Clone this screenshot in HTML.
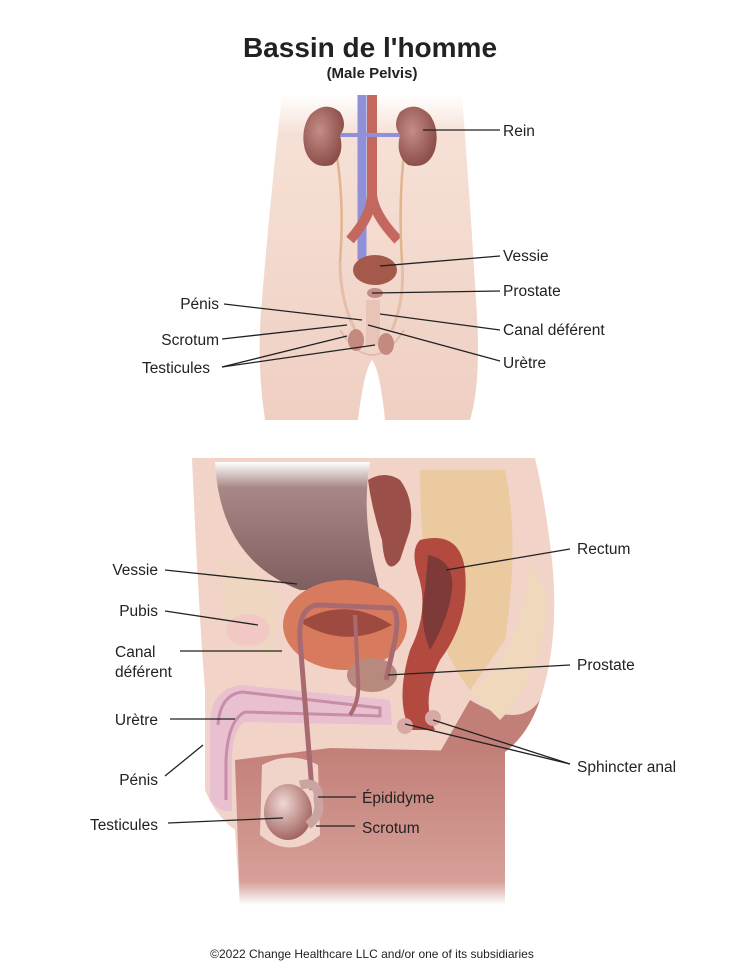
<!DOCTYPE html>
<html><head><meta charset="utf-8"><style>
html,body{margin:0;padding:0;background:#fff;}
svg{display:block;}
text{font-family:"Liberation Sans",sans-serif;fill:#222;}
</style></head><body>
<svg width="744" height="963" viewBox="0 0 744 963" xmlns="http://www.w3.org/2000/svg">
<defs>
<linearGradient id="skinTop" x1="0" y1="0" x2="0" y2="1">
<stop offset="0" stop-color="#fff"/><stop offset="0.12" stop-color="#f6e0d6"/><stop offset="1" stop-color="#efcfc2"/></linearGradient>
<linearGradient id="cav" x1="0" y1="0" x2="0" y2="1">
<stop offset="0" stop-color="#fff"/><stop offset="0.2" stop-color="#a88886"/><stop offset="1" stop-color="#7e5e5e"/></linearGradient>
<linearGradient id="low" x1="0" y1="0" x2="0" y2="1">
<stop offset="0" stop-color="#c27f78"/><stop offset="0.85" stop-color="#d6a098"/><stop offset="1" stop-color="#fff"/></linearGradient>
<radialGradient id="kid" cx="0.4" cy="0.4" r="0.6"><stop offset="0" stop-color="#c58d86"/><stop offset="1" stop-color="#8d4f4a"/></radialGradient>
<radialGradient id="test" cx="0.4" cy="0.35" r="0.7"><stop offset="0" stop-color="#f0d8d4"/><stop offset="1" stop-color="#9e5e5a"/></radialGradient>
</defs>

<text x="370" y="57" font-size="28" font-weight="bold" text-anchor="middle">Bassin de l'homme</text>
<text x="372" y="78" font-size="15" font-weight="bold" text-anchor="middle">(Male Pelvis)</text>

<!-- TOP FIGURE -->
<path d="M282,95 L462,95 Q470,200 476,300 Q482,380 470,420 L385,420 Q380,370 372,360 Q364,370 358,420 L265,420 Q256,360 262,300 Q270,200 282,95 Z" fill="url(#skinTop)"/>
<path d="M340,330 Q372,380 404,330" fill="none" stroke="#e0b4a6" stroke-width="1.5"/>
<path d="M362,95 L362,260" stroke="#8f90d8" stroke-width="9" fill="none"/>
<path d="M372,95 L372,195 Q372,215 350,240 M372,195 Q374,215 398,240" stroke="#c4675e" stroke-width="10" fill="none"/>
<path d="M330,135 L410,135" stroke="#8f90d8" stroke-width="4"/>
<path d="M335,145 Q345,200 340,262 M405,145 Q398,200 402,262" stroke="#e0b48e" stroke-width="2.5" fill="none"/>
<path d="M310,115 Q325,100 340,112 Q348,125 340,135 Q345,155 332,165 Q312,170 305,150 Q300,130 310,115 Z" fill="url(#kid)"/>
<path d="M430,115 Q415,100 400,112 Q392,125 400,135 Q395,155 408,165 Q428,170 435,150 Q440,130 430,115 Z" fill="url(#kid)"/>
<ellipse cx="375" cy="270" rx="22" ry="15" fill="#a4594b"/>
<ellipse cx="375" cy="293" rx="8" ry="5" fill="#c48c84"/>
<path d="M340,262 Q340,300 355,330 M402,262 Q405,300 392,330" stroke="#e4bea8" stroke-width="3" fill="none"/>
<path d="M366,300 L366,345 L380,345 L380,300 Z" fill="#e8c4b6"/>
<ellipse cx="356" cy="340" rx="8" ry="11" fill="#c48a80"/>
<ellipse cx="386" cy="344" rx="8" ry="11" fill="#c48a80"/>

<g stroke="#222" stroke-width="1.3" fill="none">
<line x1="423" y1="130" x2="500" y2="130"/>
<line x1="380" y1="266" x2="500" y2="256"/>
<line x1="372" y1="293" x2="500" y2="291"/>
<line x1="380" y1="314" x2="500" y2="330"/>
<line x1="368" y1="325" x2="500" y2="361"/>
<line x1="224" y1="304" x2="362" y2="320"/>
<line x1="222" y1="339" x2="347" y2="325"/>
<line x1="222" y1="367" x2="347" y2="336"/>
<line x1="222" y1="367" x2="375" y2="345"/>
</g>
<g font-size="15.5">
<text x="503" y="136">Rein</text>
<text x="503" y="261">Vessie</text>
<text x="503" y="296">Prostate</text>
<text x="503" y="335">Canal déférent</text>
<text x="503" y="368">Urètre</text>
<text x="219" y="309" text-anchor="end">Pénis</text>
<text x="219" y="345" text-anchor="end">Scrotum</text>
<text x="210" y="373" text-anchor="end">Testicules</text>
</g>

<!-- BOTTOM FIGURE -->
<path d="M192,458 L535,458 Q545,500 552,560 Q560,640 540,700 Q525,735 505,752 L505,905 L240,905 L235,830 Q215,815 205,790 L205,690 Q198,600 192,458 Z" fill="#f2d3c7"/>
<path d="M215,462 L370,462 Q360,520 380,590 L300,590 Q220,560 215,462 Z" fill="url(#cav)"/>
<path d="M235,760 L330,748 L505,752 L505,905 L240,905 Z" fill="url(#low)"/>
<path d="M470,700 Q520,730 540,700 Q528,735 505,752 L440,752 Z" fill="#c27f78"/>
<path d="M262,765 Q290,750 318,765 L320,835 Q290,860 260,835 Z" fill="#f0d4ca"/>
<path d="M420,470 Q470,470 505,470 Q520,540 505,640 L470,690 Q440,650 430,600 Q420,540 420,470 Z" fill="#ebcaa0"/>
<path d="M470,690 Q520,660 530,560 L548,600 Q540,680 500,720 Z" fill="#efd8bc"/>
<path d="M220,560 Q260,570 280,600 L270,660 Q240,630 225,620 Z" fill="#efd6c0"/>
<ellipse cx="248" cy="630" rx="22" ry="16" fill="#f2c8c4"/>
<path d="M420,540 Q460,530 465,570 Q470,620 440,660 Q420,700 435,730 L410,730 Q395,700 410,650 Q430,610 418,575 Q410,550 420,540 Z" fill="#b24a40"/>
<path d="M428,555 Q455,560 452,590 Q448,620 430,650 Q418,620 425,590 Z" fill="#7e3a36"/>
<path d="M368,480 Q385,470 400,480 Q415,500 410,530 L400,560 Q385,580 382,540 Q372,510 368,480 Z" fill="#9a5048"/>
<ellipse cx="345" cy="625" rx="62" ry="45" fill="#d87a5e"/>
<path d="M300,622 Q345,595 392,625 Q345,650 300,622 Z" fill="#9e4a40"/>
<ellipse cx="372" cy="675" rx="25" ry="17" fill="#b88a7e"/>
<path d="M210,720 Q212,690 240,685 L390,700 L392,725 L245,722 Q232,730 232,760 L232,810 Q222,815 210,800 Z" fill="#e8c0d0"/>
<path d="M218,725 Q220,695 242,692 L380,708 L380,716 L245,712 Q228,720 226,760 L226,800" fill="none" stroke="#c88ea8" stroke-width="3"/>
<path d="M312,790 L300,640 Q298,605 320,605 L392,608 Q400,612 395,640 L386,680" fill="none" stroke="#a86a70" stroke-width="5"/>
<path d="M355,615 L358,680 Q360,700 350,715" fill="none" stroke="#a86a70" stroke-width="4"/>
<ellipse cx="288" cy="812" rx="24" ry="28" fill="url(#test)"/>
<path d="M300,785 Q320,780 318,800 Q322,815 308,825" fill="none" stroke="#caa4a0" stroke-width="9"/>
<ellipse cx="405" cy="726" rx="8" ry="8" fill="#d8a8a4"/>
<ellipse cx="433" cy="718" rx="8" ry="8" fill="#d8a8a4"/>

<g stroke="#222" stroke-width="1.3" fill="none">
<line x1="165" y1="570" x2="297" y2="584"/>
<line x1="165" y1="611" x2="258" y2="625"/>
<line x1="180" y1="651" x2="282" y2="651"/>
<line x1="170" y1="719" x2="235" y2="719"/>
<line x1="165" y1="776" x2="203" y2="745"/>
<line x1="168" y1="823" x2="283" y2="818"/>
<line x1="570" y1="549" x2="446" y2="570"/>
<line x1="570" y1="665" x2="388" y2="675"/>
<line x1="570" y1="764" x2="405" y2="724"/>
<line x1="570" y1="764" x2="433" y2="720"/>
<line x1="318" y1="797" x2="356" y2="797"/>
<line x1="316" y1="826" x2="355" y2="826"/>
</g>
<g font-size="15.5">
<text x="158" y="575" text-anchor="end">Vessie</text>
<text x="158" y="616" text-anchor="end">Pubis</text>
<text x="115" y="657">Canal</text>
<text x="115" y="677">déférent</text>
<text x="158" y="725" text-anchor="end">Urètre</text>
<text x="158" y="785" text-anchor="end">Pénis</text>
<text x="158" y="830" text-anchor="end">Testicules</text>
<text x="577" y="554">Rectum</text>
<text x="577" y="670">Prostate</text>
<text x="577" y="772">Sphincter anal</text>
<text x="362" y="803">Épididyme</text>
<text x="362" y="833">Scrotum</text>
</g>
<text x="372" y="958" font-size="12" text-anchor="middle">©2022 Change Healthcare LLC and/or one of its subsidiaries</text>
</svg>
</body></html>
